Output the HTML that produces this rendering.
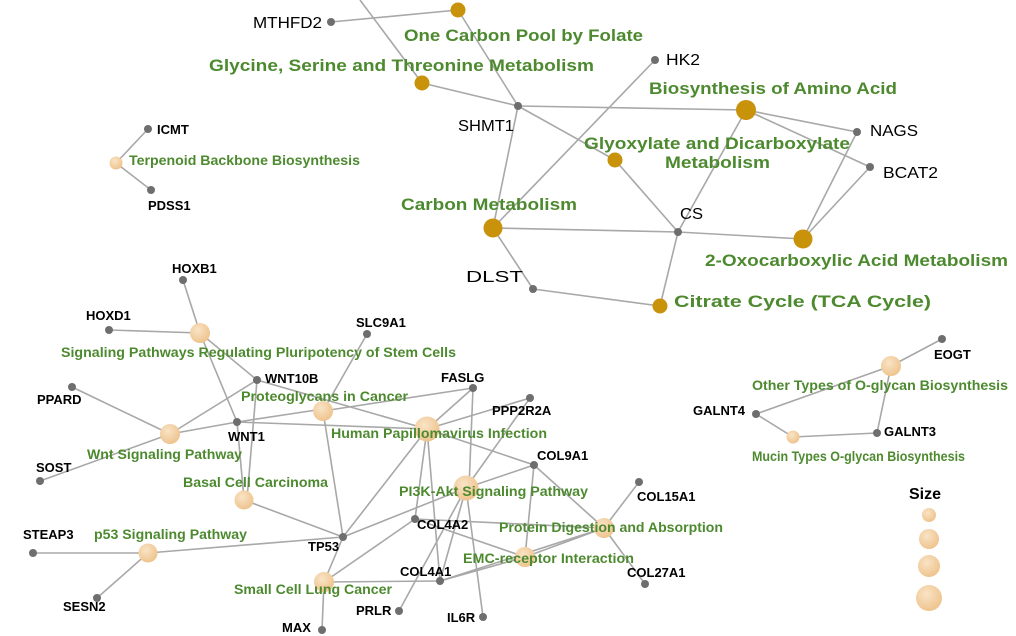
<!DOCTYPE html>
<html><head><meta charset="utf-8"><style>
html,body{margin:0;padding:0;background:#fff;}
svg{display:block;}
text{font-family:"Liberation Sans",Arial,sans-serif;}
.g{fill:#4d8a2f;font-weight:bold;}
.k{fill:#000;font-weight:bold;font-size:13px;}
.t{fill:#000;font-size:16px;}
</style></head><body>
<svg width="1016" height="636" viewBox="0 0 1016 636" xmlns="http://www.w3.org/2000/svg">
<defs>
<radialGradient id="lg" cx="40%" cy="35%" r="70%">
<stop offset="0" stop-color="#f9e4c6"/><stop offset="1" stop-color="#eec18a"/>
</radialGradient>
</defs>
<g stroke="#a8a8a8" stroke-width="1.6" fill="none">
<line x1="331" y1="22" x2="458" y2="10"/>
<line x1="360" y1="0" x2="422" y2="83"/>
<line x1="458" y1="10" x2="518" y2="106"/>
<line x1="422" y1="83" x2="518" y2="106"/>
<line x1="518" y1="106" x2="746" y2="110"/>
<line x1="518" y1="106" x2="615" y2="160"/>
<line x1="518" y1="106" x2="493" y2="228"/>
<line x1="655" y1="60" x2="493" y2="228"/>
<line x1="746" y1="110" x2="857" y2="132"/>
<line x1="746" y1="110" x2="870" y2="167"/>
<line x1="746" y1="110" x2="678" y2="232"/>
<line x1="857" y1="132" x2="803" y2="239"/>
<line x1="870" y1="167" x2="803" y2="239"/>
<line x1="615" y1="160" x2="678" y2="232"/>
<line x1="493" y1="228" x2="678" y2="232"/>
<line x1="678" y1="232" x2="803" y2="239"/>
<line x1="678" y1="232" x2="660" y2="306"/>
<line x1="493" y1="228" x2="533" y2="289"/>
<line x1="533" y1="289" x2="660" y2="306"/>
<line x1="116" y1="163" x2="148" y2="129"/>
<line x1="116" y1="163" x2="151" y2="190"/>
<line x1="183" y1="280" x2="200" y2="333"/>
<line x1="109" y1="330" x2="200" y2="333"/>
<line x1="200" y1="333" x2="257" y2="380"/>
<line x1="200" y1="333" x2="237" y2="422"/>
<line x1="367" y1="334" x2="323" y2="411"/>
<line x1="257" y1="380" x2="170" y2="434"/>
<line x1="257" y1="380" x2="247" y2="499"/>
<line x1="257" y1="380" x2="427" y2="429"/>
<line x1="237" y1="422" x2="170" y2="434"/>
<line x1="237" y1="422" x2="323" y2="409"/>
<line x1="237" y1="422" x2="427" y2="429"/>
<line x1="237" y1="422" x2="244" y2="499"/>
<line x1="72" y1="387" x2="170" y2="434"/>
<line x1="40" y1="481" x2="170" y2="434"/>
<line x1="473" y1="388" x2="323" y2="411"/>
<line x1="473" y1="388" x2="427" y2="429"/>
<line x1="473" y1="388" x2="469" y2="488"/>
<line x1="323" y1="411" x2="343" y2="537"/>
<line x1="530" y1="398" x2="427" y2="429"/>
<line x1="530" y1="398" x2="466" y2="488"/>
<line x1="427" y1="429" x2="534" y2="465"/>
<line x1="427" y1="429" x2="343" y2="537"/>
<line x1="427" y1="429" x2="415" y2="519"/>
<line x1="427" y1="429" x2="440" y2="581"/>
<line x1="466" y1="488" x2="534" y2="465"/>
<line x1="466" y1="488" x2="343" y2="537"/>
<line x1="466" y1="488" x2="440" y2="581"/>
<line x1="466" y1="488" x2="399" y2="611"/>
<line x1="466" y1="488" x2="483" y2="617"/>
<line x1="415" y1="519" x2="324" y2="582"/>
<line x1="415" y1="519" x2="604" y2="528"/>
<line x1="415" y1="519" x2="525" y2="557"/>
<line x1="534" y1="465" x2="525" y2="557"/>
<line x1="534" y1="465" x2="604" y2="528"/>
<line x1="639" y1="482" x2="604" y2="528"/>
<line x1="645" y1="584" x2="604" y2="528"/>
<line x1="525" y1="557" x2="604" y2="528"/>
<line x1="525" y1="557" x2="440" y2="581"/>
<line x1="604" y1="528" x2="440" y2="581"/>
<line x1="324" y1="582" x2="440" y2="581"/>
<line x1="324" y1="582" x2="343" y2="537"/>
<line x1="324" y1="582" x2="322" y2="630"/>
<line x1="244" y1="500" x2="343" y2="537"/>
<line x1="148" y1="553" x2="343" y2="537"/>
<line x1="33" y1="553" x2="148" y2="553"/>
<line x1="97" y1="598" x2="148" y2="553"/>
<line x1="942" y1="339" x2="891" y2="366"/>
<line x1="891" y1="366" x2="756" y2="414"/>
<line x1="756" y1="414" x2="793" y2="437"/>
<line x1="793" y1="437" x2="877" y2="433"/>
<line x1="877" y1="433" x2="891" y2="366"/>
</g>
<g fill="#6e6e6e">
<circle cx="331" cy="22" r="4"/><circle cx="655" cy="60" r="4"/><circle cx="518" cy="106" r="4"/>
<circle cx="857" cy="132" r="4"/><circle cx="870" cy="167" r="4"/><circle cx="678" cy="232" r="4"/>
<circle cx="533" cy="289" r="4"/><circle cx="148" cy="129" r="4"/><circle cx="151" cy="190" r="4"/>
<circle cx="183" cy="280" r="4"/><circle cx="109" cy="330" r="4"/><circle cx="367" cy="334" r="4"/>
<circle cx="257" cy="380" r="4"/><circle cx="72" cy="387" r="4"/><circle cx="473" cy="388" r="4"/>
<circle cx="530" cy="398" r="4"/><circle cx="237" cy="422" r="4"/><circle cx="40" cy="481" r="4"/>
<circle cx="534" cy="465" r="4"/><circle cx="415" cy="519" r="4"/><circle cx="343" cy="537" r="4"/>
<circle cx="33" cy="553" r="4"/><circle cx="639" cy="482" r="4"/><circle cx="645" cy="584" r="4"/>
<circle cx="440" cy="581" r="4"/><circle cx="97" cy="598" r="4"/><circle cx="399" cy="611" r="4"/>
<circle cx="483" cy="617" r="4"/><circle cx="322" cy="630" r="4"/>
<circle cx="942" cy="339" r="4"/><circle cx="756" cy="414" r="4"/><circle cx="877" cy="433" r="4"/>
</g>
<g fill="#c8920a">
<circle cx="458" cy="10" r="7.5"/><circle cx="422" cy="83" r="7.5"/><circle cx="746" cy="110" r="10"/>
<circle cx="615" cy="160" r="7.5"/><circle cx="493" cy="228" r="9.5"/><circle cx="803" cy="239" r="9.5"/>
<circle cx="660" cy="306" r="7.5"/>
</g>
<g fill="url(#lg)">
<circle cx="116" cy="163" r="6.5"/>
<circle cx="200" cy="333" r="10"/><circle cx="323" cy="411" r="10"/><circle cx="170" cy="434" r="10"/>
<circle cx="427" cy="429" r="12.5"/><circle cx="244" cy="500" r="9.5"/><circle cx="466" cy="488" r="12.5"/>
<circle cx="148" cy="553" r="9.5"/><circle cx="604" cy="528" r="10"/><circle cx="525" cy="557" r="10"/>
<circle cx="324" cy="582" r="10"/><circle cx="891" cy="366" r="10"/><circle cx="793" cy="437" r="6.5"/>
<circle cx="929" cy="515" r="7"/><circle cx="929" cy="539" r="10"/><circle cx="929" cy="566" r="11"/><circle cx="929" cy="598" r="13"/>
</g>
<g class="t" lengthAdjust="spacingAndGlyphs">
<text x="253" y="28" textLength="69" lengthAdjust="spacingAndGlyphs">MTHFD2</text>
<text x="666" y="65" textLength="34" lengthAdjust="spacingAndGlyphs">HK2</text>
<text x="458" y="131" textLength="56" lengthAdjust="spacingAndGlyphs">SHMT1</text>
<text x="870" y="136" textLength="48" lengthAdjust="spacingAndGlyphs">NAGS</text>
<text x="883" y="178" textLength="55" lengthAdjust="spacingAndGlyphs">BCAT2</text>
<text x="680" y="219" textLength="23" lengthAdjust="spacingAndGlyphs">CS</text>
<text x="466" y="282" textLength="57" lengthAdjust="spacingAndGlyphs">DLST</text>
</g>
<g class="g" font-size="17">
<text x="404" y="41" textLength="239" lengthAdjust="spacingAndGlyphs">One Carbon Pool by Folate</text>
<text x="209" y="71" textLength="385" lengthAdjust="spacingAndGlyphs">Glycine, Serine and Threonine Metabolism</text>
<text x="649" y="94" textLength="248" lengthAdjust="spacingAndGlyphs">Biosynthesis of Amino Acid</text>
<text x="584" y="149" textLength="266" lengthAdjust="spacingAndGlyphs">Glyoxylate and Dicarboxylate</text>
<text x="665" y="168" textLength="105" lengthAdjust="spacingAndGlyphs">Metabolism</text>
<text x="401" y="210" textLength="176" lengthAdjust="spacingAndGlyphs">Carbon Metabolism</text>
<text x="705" y="266" textLength="303" lengthAdjust="spacingAndGlyphs">2-Oxocarboxylic Acid Metabolism</text>
<text x="674" y="307" textLength="257" lengthAdjust="spacingAndGlyphs">Citrate Cycle (TCA Cycle)</text>
</g>
<g class="g" font-size="13.5">
<text x="129" y="165" textLength="231" lengthAdjust="spacingAndGlyphs">Terpenoid Backbone Biosynthesis</text>
<text x="61" y="357" textLength="395" lengthAdjust="spacingAndGlyphs">Signaling Pathways Regulating Pluripotency of Stem Cells</text>
<text x="241" y="401" textLength="167" lengthAdjust="spacingAndGlyphs">Proteoglycans in Cancer</text>
<text x="331" y="438" textLength="216" lengthAdjust="spacingAndGlyphs">Human Papillomavirus Infection</text>
<text x="87" y="459" textLength="155" lengthAdjust="spacingAndGlyphs">Wnt Signaling Pathway</text>
<text x="183" y="487" textLength="145" lengthAdjust="spacingAndGlyphs">Basal Cell Carcinoma</text>
<text x="399" y="496" textLength="189" lengthAdjust="spacingAndGlyphs">PI3K-Akt Signaling Pathway</text>
<text x="499" y="532" textLength="224" lengthAdjust="spacingAndGlyphs">Protein Digestion and Absorption</text>
<text x="94" y="539" textLength="153" lengthAdjust="spacingAndGlyphs">p53 Signaling Pathway</text>
<text x="463" y="563" textLength="171" lengthAdjust="spacingAndGlyphs">EMC-receptor Interaction</text>
<text x="234" y="594" textLength="158" lengthAdjust="spacingAndGlyphs">Small Cell Lung Cancer</text>
<text x="752" y="390" textLength="256" lengthAdjust="spacingAndGlyphs">Other Types of O-glycan Biosynthesis</text>
<text x="752" y="461" textLength="213" lengthAdjust="spacingAndGlyphs">Mucin Types O-glycan Biosynthesis</text>
</g>
<g class="k">
<text x="157" y="134">ICMT</text>
<text x="148" y="210">PDSS1</text>
<text x="172" y="273">HOXB1</text>
<text x="86" y="320">HOXD1</text>
<text x="356" y="327">SLC9A1</text>
<text x="265" y="383">WNT10B</text>
<text x="37" y="404">PPARD</text>
<text x="441" y="382">FASLG</text>
<text x="492" y="415">PPP2R2A</text>
<text x="228" y="441">WNT1</text>
<text x="36" y="472">SOST</text>
<text x="537" y="460">COL9A1</text>
<text x="637" y="501">COL15A1</text>
<text x="417" y="529">COL4A2</text>
<text x="23" y="539">STEAP3</text>
<text x="308" y="551">TP53</text>
<text x="400" y="576">COL4A1</text>
<text x="627" y="577">COL27A1</text>
<text x="63" y="611">SESN2</text>
<text x="356" y="615">PRLR</text>
<text x="447" y="622">IL6R</text>
<text x="282" y="632">MAX</text>
<text x="934" y="359">EOGT</text>
<text x="693" y="415">GALNT4</text>
<text x="884" y="436">GALNT3</text>
</g>
<text x="909" y="499" font-size="16" font-weight="bold" fill="#000">Size</text>
</svg>
</body></html>
